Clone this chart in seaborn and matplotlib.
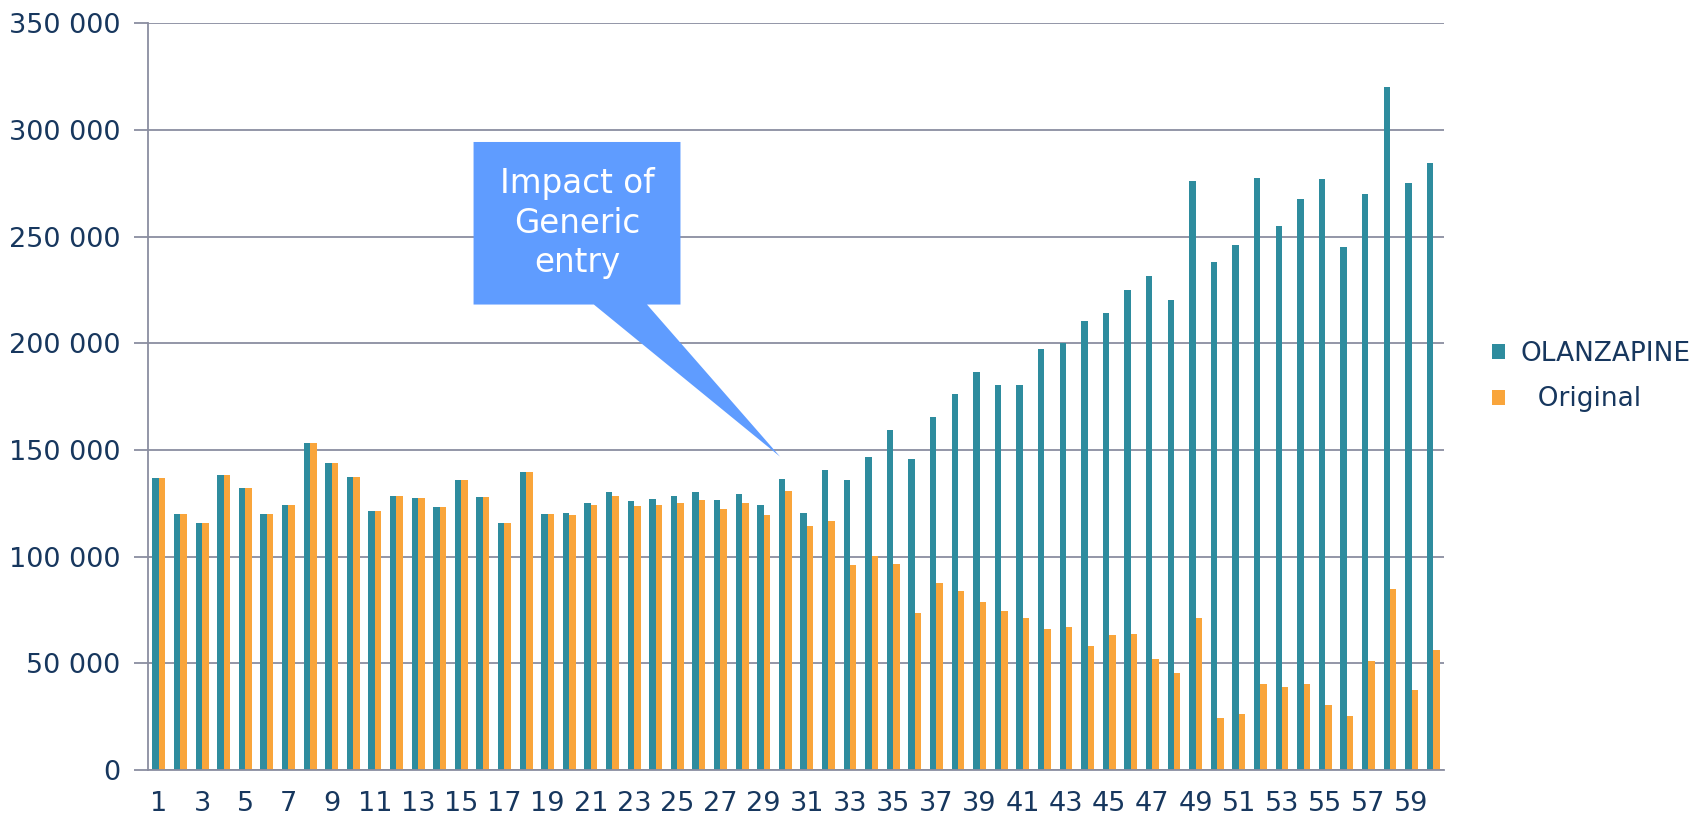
import matplotlib
matplotlib.use("Agg")
import matplotlib.pyplot as plt
import seaborn as sns
import pandas as pd
from matplotlib.patches import Polygon
from matplotlib.ticker import FuncFormatter, FixedLocator

periods = [str(i) for i in range(1, 61)]
olanzapine = [137000, 120000, 115600, 138300, 132000, 120200, 124200, 153300, 144000, 137300,
              121400, 128400, 127600, 123300, 136100, 127800, 115900, 139500, 120200, 120300,
              125200, 130300, 126200, 127200, 128400, 130200, 126700, 129400, 124400, 136600,
              120300, 140800, 135900, 146600, 159400, 145900, 165400, 176200, 186700, 180500,
              180300, 197500, 200000, 210300, 214400, 225000, 231600, 220200, 276300, 238200,
              245900, 277400, 255000, 267500, 277000, 245000, 270000, 320000, 275300, 284600]
original = [137000, 120000, 115600, 138300, 132000, 120200, 124200, 153300, 144000, 137300,
            121400, 128400, 127600, 123300, 136100, 127800, 115900, 139500, 120000, 119700,
            124100, 128300, 123800, 124200, 125200, 126600, 122300, 125300, 119400, 130600,
            114400, 116600, 96100, 100200, 96400, 73400, 87900, 83700, 78700, 74400,
            71100, 65900, 67000, 58100, 63400, 63600, 51900, 45300, 71100, 24400,
            26100, 40200, 39100, 40300, 30500, 25200, 51100, 84800, 37400, 56400]
series_names = ["OLANZAPINE", "  Original"]
colors = ["#2E8C9E", "#F9A53B"]
yticks = [0, 50000, 100000, 150000, 200000, 250000, 300000, 350000]
callout_text = "Impact of\nGeneric\nentry"

df = pd.DataFrame({
    "period": periods * 2,
    "value": olanzapine + original,
    "series": [series_names[0]] * len(periods) + [series_names[1]] * len(periods),
})

sns.set_style("white")
plt.rcParams["font.family"] = ["DejaVu Sans"]
navy = "#17375E"
gridc = "#8A8DA0"

fig = plt.figure(figsize=(16.98, 8.17), dpi=100)
ax = fig.add_axes([0.0872, 0.0575, 0.7632, 0.9139])

sns.barplot(data=df, x="period", y="value", hue="series", order=periods,
            hue_order=series_names, palette=colors, width=0.6, ax=ax,
            saturation=1, linewidth=0, legend=True)

ax.set_xlim(-0.5, len(periods) - 0.5)
ax.set_ylim(0, 350000)
ax.set_yticks(yticks)
ax.yaxis.set_major_formatter(FuncFormatter(lambda v, p: f"{int(v):,}".replace(",", " ")))
ax.grid(axis="y", color=gridc, linewidth=1.3)
ax.set_axisbelow(True)
ax.set_xlabel("")
ax.set_ylabel("")

# x labels every other category, tick marks at boundaries
ax.xaxis.set_major_locator(FixedLocator(list(range(0, len(periods), 2))))
ax.set_xticklabels(periods[::2])
ax.xaxis.set_minor_locator(FixedLocator([i - 0.5 for i in range(len(periods) + 1)]))
ax.tick_params(axis="x", which="major", length=0, pad=15, labelsize=19.5, labelcolor=navy)
ax.tick_params(axis="x", which="minor", length=7, width=1.3, color=gridc, direction="out")
ax.tick_params(axis="y", which="major", length=10, width=1.3, color=gridc, pad=10,
               labelsize=19.5, labelcolor=navy, left=True)

for s in ["top", "right"]:
    ax.spines[s].set_visible(False)
for s in ["left", "bottom"]:
    ax.spines[s].set_color(gridc)
    ax.spines[s].set_linewidth(1.3)

handles, labels = ax.get_legend_handles_labels()
ax.legend(handles, labels, loc="center left", bbox_to_anchor=(1.037, 0.527),
          frameon=False, fontsize=19, labelcolor=navy, handlelength=0.5,
          handleheight=0.5, handletextpad=0.6, labelspacing=0.75,
          borderpad=0, borderaxespad=0)

# callout annotation
box_l, box_r, box_t, box_b = 14.57, 24.15, 294400, 218200
tail_l, tail_r = 20.14, 22.6
tip = (28.76, 146900)
poly = Polygon([(box_l, box_t), (box_r, box_t), (box_r, box_b), (tail_r, box_b), tip,
                (tail_l, box_b), (box_l, box_b)], closed=True,
               facecolor="#5F9CFF", edgecolor="none", zorder=5, clip_on=False)
ax.add_patch(poly)
ax.text((box_l + box_r) / 2, (box_t + box_b) / 2, callout_text, ha="center", va="center",
        color="white", fontsize=23.5, linespacing=1.25, zorder=6)

fig.savefig("out.png", dpi=100)
